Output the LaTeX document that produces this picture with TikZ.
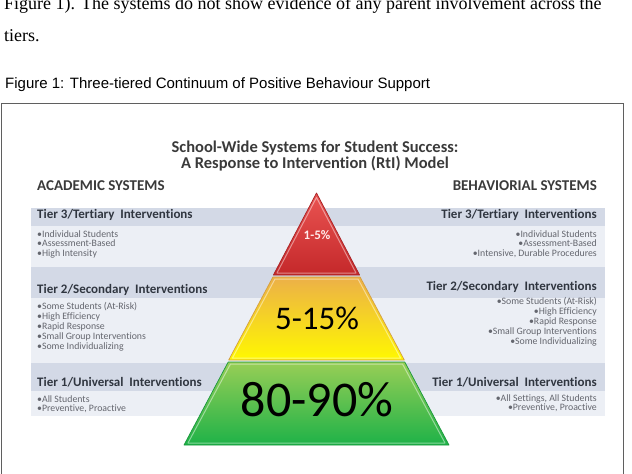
\documentclass[tikz,border=0pt]{standalone}
\usepackage{fontspec}
\setmainfont{Liberation Serif}
\newfontfamily\capfont{Liberation Sans}
\newfontfamily\rtifont[Ligatures=NoCommon]{Carlito}
\usetikzlibrary{positioning}
\definecolor{framecolor}{RGB}{95,95,95}
\definecolor{headcolor}{RGB}{211,217,230}
\definecolor{bodycolor}{RGB}{236,239,245}
\definecolor{titlecolor}{RGB}{58,58,58}
\definecolor{tiertext}{RGB}{48,54,64}
\definecolor{itemtext}{RGB}{100,102,110}
\definecolor{redtop}{RGB}{234,84,82}
\definecolor{redbot}{RGB}{196,40,42}
\definecolor{yellowtop}{RGB}{236,176,72}
\definecolor{yellowbot}{RGB}{255,248,0}
\definecolor{greentop}{RGB}{152,206,86}
\definecolor{greenbot}{RGB}{30,178,72}

\begin{document}
\begin{tikzpicture}[
    x=1pt, y=-1pt,
    band/.style={rectangle, draw=none, minimum width=574pt, inner sep=0pt, anchor=north west},
    tierhead/.style={font=\rtifont\bfseries\fontsize{13}{15}\selectfont, text=tiertext, inner sep=0pt},
    items/.style={font=\rtifont\fontsize{9.8}{9.9}\selectfont, text=itemtext, inner sep=0pt},
    system/.style={font=\rtifont\bfseries\fontsize{15}{17}\selectfont, text=titlecolor, inner sep=0pt},
    layer/.style={line width=0.7pt, line join=round},
    bevel/.style={white, opacity=0.45, line width=1pt, line join=round},
    pct/.style={font=\rtifont, inner sep=0pt}
]
\useasboundingbox (0,0) rectangle (632,474);
\clip (0,0) rectangle (632,474);

% Text above the figure
\node[anchor=base west, inner sep=0pt, font=\fontsize{18}{20}\selectfont] (para1) at (4,9.5)
    {Figure 1). The systems do not show evidence of any parent involvement across the};
\node[anchor=base west, inner sep=0pt, font=\fontsize{18}{20}\selectfont] (para2) at (4,41) {tiers.};
\node[anchor=base west, inner sep=0pt, font=\capfont\fontsize{15}{17}\selectfont] (caption) at (5,88)
    {Figure 1: Three-tiered Continuum of Positive Behaviour Support};

% Frame
\node[draw=framecolor, line width=1.2pt, rectangle, inner sep=0pt, anchor=north west,
      minimum width=622pt, minimum height=400pt] (frame) at (1,103) {};

% Title
\node[font=\rtifont\bfseries\fontsize{16.5}{16.5}\selectfont, text=titlecolor, align=center, inner sep=0pt]
    (title) at (315,156) {School-Wide Systems for Student Success:\\A Response to Intervention (RtI) Model};
\node[system, anchor=west] (academic) at (37,186) {ACADEMIC SYSTEMS};
\node[system, anchor=east] (behavior) at (597,186) {BEHAVIORIAL SYSTEMS};

% Bands
\node[band, fill=headcolor, minimum height=18pt] (t3head) at (31,208) {};
\node[band, fill=bodycolor, minimum height=41pt] (t3body) at (31,226) {};
\node[band, fill=headcolor, minimum height=31pt] (t2head) at (31,267) {};
\node[band, fill=bodycolor, minimum height=65pt] (t2body) at (31,298) {};
\node[band, fill=headcolor, minimum height=28pt] (t1head) at (31,363) {};
\node[band, fill=bodycolor, minimum height=25pt] (t1body) at (31,391) {};

% Academic side
\node[tierhead, anchor=west] (acad3) at (37,215) {Tier 3/Tertiary\ \ Interventions};
\node[items, anchor=north west, align=left] (acad3list) at (37,230)
    {\textbullet Individual Students\\\textbullet Assessment-Based\\\textbullet High Intensity};
\node[tierhead, anchor=west] (acad2) at (37,290) {Tier 2/Secondary\ \ Interventions};
\node[items, anchor=north west, align=left] (acad2list) at (37,302.5)
    {\textbullet Some Students (At-Risk)\\\textbullet High Efficiency\\\textbullet Rapid Response\\
     \textbullet Small Group Interventions\\\textbullet Some Individualizing};
\node[tierhead, anchor=west] (acad1) at (37,382) {Tier 1/Universal\ \ Interventions};
\node[items, anchor=north west, align=left] (acad1list) at (37,395)
    {\textbullet All Students\\\textbullet Preventive, Proactive};

% Behavioral side
\node[tierhead, anchor=east] (beh3) at (597,215) {Tier 3/Tertiary\ \ Interventions};
\node[items, anchor=north east, align=right] (beh3list) at (597,230)
    {\textbullet Individual Students\\\textbullet Assessment-Based\\\textbullet Intensive, Durable Procedures};
\node[tierhead, anchor=east] (beh2) at (597,287) {Tier 2/Secondary\ \ Interventions};
\node[items, anchor=north east, align=right] (beh2list) at (597,297.5)
    {\textbullet Some Students (At-Risk)\\\textbullet High Efficiency\\\textbullet Rapid Response\\
     \textbullet Small Group Interventions\\\textbullet Some Individualizing};
\node[tierhead, anchor=east] (beh1) at (597,382) {Tier 1/Universal\ \ Interventions};
\node[items, anchor=north east, align=right] (beh1list) at (597,394)
    {\textbullet All Settings, All Students\\\textbullet Preventive, Proactive};

% Pyramid
\shade[layer, top color=greentop, bottom color=greenbot, draw=greenbot!85!black]
    (228.2,362) -- (404.8,362) -- (449,445) -- (184,445) -- cycle;
\draw[bevel] (230.5,364) -- (402.5,364) -- (445,443) -- (188,443) -- cycle;
\shade[layer, top color=yellowtop, bottom color=yellowbot, draw=yellowtop!90!black]
    (272.9,277) -- (360.1,277) -- (404.3,360) -- (228.7,360) -- cycle;
\draw[bevel] (275,279) -- (358,279) -- (400.5,358) -- (232.5,358) -- cycle;
\shade[layer, top color=redtop, bottom color=redbot, draw=redbot!85!black]
    (316.5,193) -- (359.6,275) -- (273.4,275) -- cycle;
\draw[bevel] (316.5,197.5) -- (356,273) -- (277,273) -- cycle;

\node[pct, font=\rtifont\bfseries\fontsize{13}{15}\selectfont, text=white!92!red] (pct3) at (317,235) {1-5\%};
\node[pct, font=\rtifont\fontsize{33}{36}\selectfont] (pct2) at (317,318) {5-15\%};
\node[pct, font=\rtifont\fontsize{50}{54}\selectfont] (pct1) at (317,400) {80-90\%};

\end{tikzpicture}
\end{document}
